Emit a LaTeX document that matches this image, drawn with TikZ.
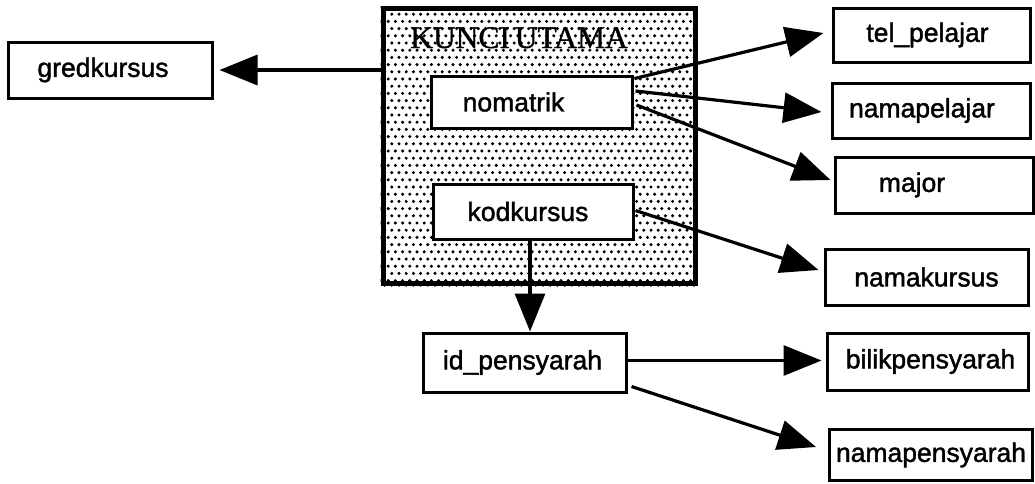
\documentclass[tikz,border=0pt]{standalone}
\usepackage{fontspec}
\setmainfont{Liberation Sans}[FakeBold=1.5]
\newfontfamily\serifk{Liberation Serif}[FakeBold=1]
\usetikzlibrary{arrows.meta,calc}
\tikzset{
  attr/.style={draw=black, line width=3pt, fill=white, inner sep=0pt,
    font=\fontsize{26.5}{28}\selectfont},
  conn/.style={line width=3.2pt, -{Triangle[length=38pt,width=30pt]}},
  keybox/.style={draw=black, line width=5pt, inner sep=0pt},
  dotstyle/.style={fill=black}
}
\begin{document}
\begin{tikzpicture}[x=1pt,y=-1pt]
\useasboundingbox (0,0) rectangle (1035,483);
% big key box
\node[keybox, minimum width=312pt, minimum height=275pt] (big) at (539,146) {};
\begin{scope}
\clip (big.south west) rectangle (big.north east);
\foreach \j in {0,...,40}{
  \foreach \i in {0,...,45}{
    \fill[dotstyle] ({381+\i*7.2+mod(\j,2)*3.6},{7+\j*7.2}) circle (1.7pt);
  }
}
\end{scope}
\node[keybox, minimum width=312pt, minimum height=275pt] at (539,146) {};
\node[anchor=base, font=\serifk\fontsize{31.5}{33}\selectfont] (kt) at (519,48) {KUNCI\hspace{-3pt} UTAMA};

% attribute boxes
\node[attr, minimum width=204pt, minimum height=56pt] (gred) at (110,70) {gredkursus\hspace*{14pt}};
\node[attr, minimum width=201pt, minimum height=52pt] (nom) at (531.5,102) {nomatrik\hspace*{36pt}};
\node[attr, minimum width=200pt, minimum height=55pt] (kod) at (533,211.5) {kodkursus\hspace*{10pt}};
\node[attr, minimum width=203pt, minimum height=59pt] (idp) at (524.5,362.5) {id\_pensyarah\hspace*{4pt}};
\node[attr, minimum width=197pt, minimum height=54pt] (tel) at (931.5,35) {tel\_pelajar\hspace*{8pt}};
\node[attr, minimum width=198pt, minimum height=55pt] (nplj) at (931,110.5) {namapelajar\hspace*{18pt}};
\node[attr, minimum width=198pt, minimum height=56pt] (maj) at (934,185) {major\hspace*{44pt}};
\node[attr, minimum width=203pt, minimum height=56pt] (nkur) at (926.5,277) {namakursus};
\node[attr, minimum width=201pt, minimum height=57pt] (bilik) at (927.5,361.5) {\hspace*{6pt}bilikpensyarah};
\node[attr, minimum width=203pt, minimum height=51pt] (npen) at (931,455) {namapensyarah};

% connectors
\coordinate (kx) at ($(kod.south)+(-3,0)$);
\draw[conn, shorten >=6pt] (big.west |- gred.east) -- (gred.east);
\draw[conn] ($(nom.north east)+(1,4)$) -- ($(tel.west)+(-8,-2)$);
\draw[conn] ($(nom.east)+(2,-11)$) -- ($(nplj.west)+(-9,1.5)$);
\draw[conn] ($(nom.east)+(3,3)$) -- ($(maj.west)+(-3,-5)$);
\draw[conn] ($(kod.east)+(1,-1)$) -- ($(nkur.west)+(-5,-7)$);
\draw[conn] (kx) -- (kx |- idp.north);
\draw[conn, shorten >=4pt] ($(idp.east)+(0,-2)$) -- ($(idp.east -| bilik.west)+(0,-2)$);
\draw[conn] ($(idp.south east)+(4,-7)$) -- ($(npen.west)+(-12,-8)$);
\end{tikzpicture}
\end{document}
